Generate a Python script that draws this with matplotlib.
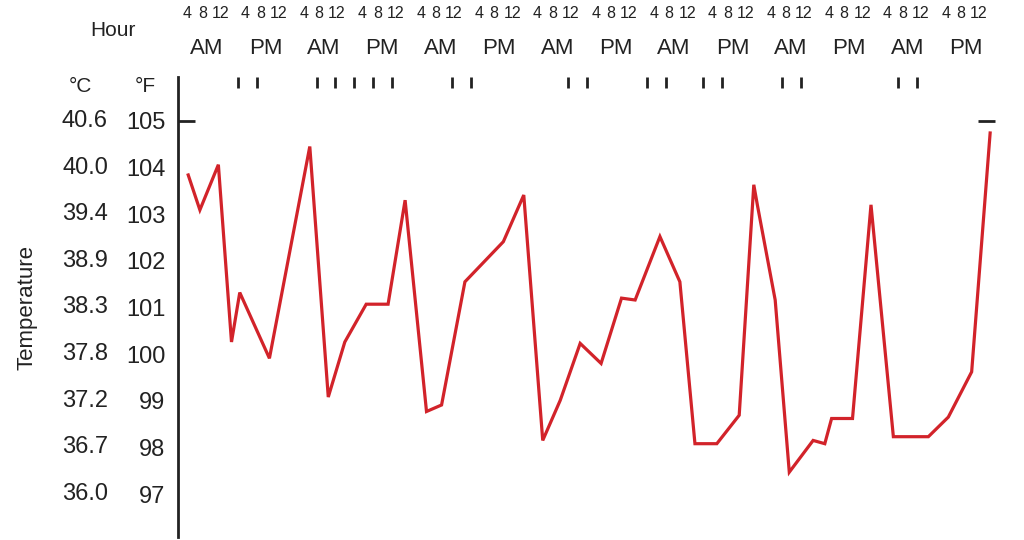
import matplotlib
matplotlib.use("Agg")
import matplotlib.pyplot as plt

plt.rcParams['font.family'] = ['Liberation Sans', 'DejaVu Sans']

# readings: hours since first midnight, temperature in °F
hours = [2.1, 4.5, 8.3, 11.0, 12.7, 18.8, 27.1, 30.9, 34.3, 38.7, 43.2, 46.7,
         51.1, 54.2, 59.0, 66.9, 71.1, 75.0, 78.6, 82.7, 87.0, 91.2, 94.0,
         99.1, 103.2, 106.3, 110.8, 115.4, 118.4, 119.2, 122.8, 125.7, 130.6,
         133.0, 134.4, 138.7, 142.5, 147.1, 154.3, 158.4, 163.2, 167.0]
temp_f = [103.84, 103.09, 104.06, 100.26, 101.32, 99.91, 104.45, 99.08, 100.26,
          101.07, 101.07, 103.30, 98.77, 98.91, 101.55, 102.41, 103.41, 98.15,
          99.01, 100.23, 99.80, 101.20, 101.16, 102.52, 101.55, 98.08, 98.08,
          98.69, 103.63, 103.16, 101.16, 97.47, 98.15, 98.08, 98.62, 98.62,
          103.20, 98.23, 98.23, 98.65, 99.62, 104.74]

# event marks along the top (hours)
events = [12.3, 16.2, 28.6, 32.3, 36.2, 40.1, 44.0, 56.3, 60.2, 80.2, 84.1,
          96.4, 100.3, 108.0, 111.9, 124.2, 128.1, 148.1, 152.0]

f_ticks = [105, 104, 103, 102, 101, 100, 99, 98, 97]
c_labels = ['40.6', '40.0', '39.4', '38.9', '38.3', '37.8', '37.2', '36.7', '36.0']
half_days = ['AM', 'PM'] * 7
hour_labels = ['4', '8', '12']
hour_offsets = [1.9, 5.0, 8.7]

txt = '#222222'
fig = plt.figure(figsize=(10.24, 5.4), dpi=100)
W, H = 1024, 540
x0, x1, ytop, ybot = 178, 995, 77, 537
ax = fig.add_axes([x0 / W, (H - ybot) / H, (x1 - x0) / W, (ybot - ytop) / H])

ax.plot(hours, temp_f, color='#d2232a', lw=2.3, solid_joinstyle='miter')

ax.set_xlim(0, 168)
ax.set_ylim(96.08, 105.94)

for s in ['top', 'right', 'bottom']:
    ax.spines[s].set_visible(False)
ax.spines['left'].set_linewidth(2)
ax.spines['left'].set_color(txt)

ax.set_xticks([])
ax.set_yticks(f_ticks)
ax.set_yticklabels([str(f) for f in f_ticks])
ax.tick_params(axis='y', which='major', length=0, pad=9, labelsize=17, labelcolor=txt)
# single inward mark at 105 on both sides
ax.yaxis.remove_overlapping_locs = False
ax.set_yticks([105], minor=True)
ax.tick_params(axis='y', which='minor', left=True, right=True, direction='in',
               length=12, width=2, color=txt)

ytr = ax.get_yaxis_transform()
for c, f in zip(c_labels, f_ticks):
    ax.text(-0.0857, f, c, transform=ytr, ha='right', va='center', fontsize=17, color=txt)

xtr = ax.get_xaxis_transform()
ax.vlines(events, 0.976, 1.0, transform=xtr, color=txt, lw=2)

for i, lab in enumerate(half_days):
    ax.text(12 * i + 6, 1.063, lab, transform=xtr, ha='center', va='center',
            fontsize=16, color=txt, clip_on=False)
    for off, h in zip(hour_offsets, hour_labels):
        ax.text(12 * i + off, 1.139, h, transform=xtr, ha='center', va='center',
                fontsize=11.5, color=txt, clip_on=False)

fig.text(113 / W, 1 - 30 / H, 'Hour', ha='center', va='center', fontsize=15, color=txt)
fig.text(80 / W, 1 - 87 / H, '°C', ha='center', va='center', fontsize=15, color=txt)
fig.text(145 / W, 1 - 87 / H, '°F', ha='center', va='center', fontsize=15, color=txt)
fig.text(27 / W, 1 - 307 / H, 'Temperature', ha='center', va='center', rotation=90,
         fontsize=16, color=txt)

fig.savefig('out.png', dpi=100)
